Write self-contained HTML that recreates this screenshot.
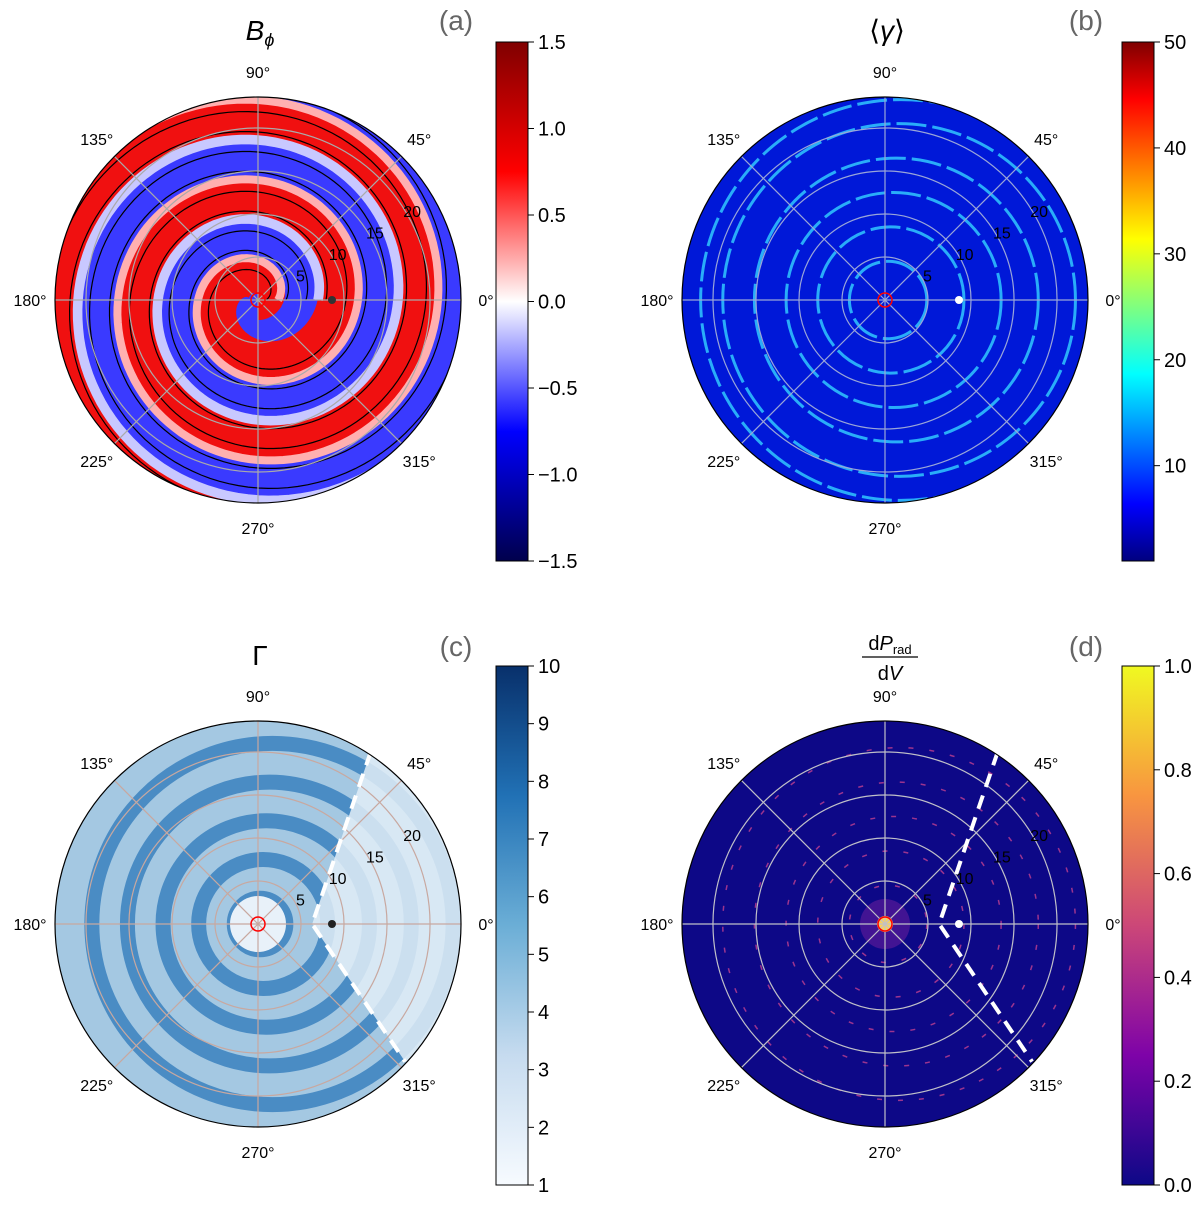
<!DOCTYPE html>
<html><head><meta charset="utf-8"><style>
body{margin:0;background:#fff;width:1200px;height:1207px;overflow:hidden;font-family:"Liberation Sans","DejaVu Sans",sans-serif}
svg{display:block}
</style></head><body>
<svg id="fig" width="1200" height="1207" viewBox="0 0 1200 1207">
<defs>
<linearGradient id="gSeis" x1="0" y1="1" x2="0" y2="0"><stop offset="0" stop-color="#00004c"/><stop offset="0.25" stop-color="#0000ff"/><stop offset="0.5" stop-color="#ffffff"/><stop offset="0.75" stop-color="#ff0000"/><stop offset="1" stop-color="#800000"/></linearGradient>
<linearGradient id="gJet" x1="0" y1="1" x2="0" y2="0"><stop offset="0" stop-color="#00007f"/><stop offset="0.11" stop-color="#0000ff"/><stop offset="0.36" stop-color="#00ffff"/><stop offset="0.62" stop-color="#ffff00"/><stop offset="0.89" stop-color="#ff0000"/><stop offset="1" stop-color="#7f0000"/></linearGradient>
<linearGradient id="gBlues" x1="0" y1="1" x2="0" y2="0"><stop offset="0" stop-color="#f7fbff"/><stop offset="0.25" stop-color="#c6dbef"/><stop offset="0.5" stop-color="#6baed6"/><stop offset="0.75" stop-color="#2171b5"/><stop offset="1" stop-color="#08306b"/></linearGradient>
<linearGradient id="gPlasma" x1="0" y1="1" x2="0" y2="0"><stop offset="0" stop-color="#0d0887"/><stop offset="0.25" stop-color="#7e03a8"/><stop offset="0.5" stop-color="#cc4778"/><stop offset="0.75" stop-color="#f89540"/><stop offset="1" stop-color="#f0f921"/></linearGradient>
<clipPath id="cA"><circle cx="258" cy="300" r="203"/></clipPath>
<clipPath id="cB"><circle cx="885" cy="300" r="203"/></clipPath>
<clipPath id="cC"><circle cx="258" cy="924" r="203"/></clipPath>
<clipPath id="cD"><circle cx="885" cy="924" r="203"/></clipPath>
</defs>
<g id="layer"></g>
</svg>
<script>
const NS='http://www.w3.org/2000/svg';
const fig=document.getElementById('layer');
// data arrays
const radialTicks=[5,10,15,20];
const angleTicks=[0,45,90,135,180,225,270,315];
const cbTicksA=[-1.5,-1.0,-0.5,0.0,0.5,1.0,1.5];
const cbTicksB=[10,20,30,40,50];
const cbTicksC=[1,2,3,4,5,6,7,8,9,10];
const cbTicksD=[0.0,0.2,0.4,0.6,0.8,1.0];
const ringRadiiB=[4.5,8.5,12.5,16.5,20.5,23.3];
const ringRadiiC=[3,7.5,12,16.5,21];
const ringRadiiD=[4.5,8.5,12.5,16.5,20.5];
const spiralPitch=9.3; // data units per turn
const dashedLine=[[13.1,20],[6.3,0],[17.1,-16]];
const RMAX=23.6, RPX=203;
function el(t,a,p){const e=document.createElementNS(NS,t);for(const k in a)e.setAttribute(k,a[k]);(p||fig).appendChild(e);return e;}
function rs(r){return r*RPX/RMAX;}
function spiralPath(cx,cy,phase,turns){let d='';for(let i=0;i<=turns*120;i++){const th=i/120*2*Math.PI;const r=rs(spiralPitch*(th/(2*Math.PI))+phase);const x=cx+r*Math.cos(th),y=cy-r*Math.sin(th);d+=(i?'L':'M')+x.toFixed(1)+' '+y.toFixed(1);}return d;}
function panel(cx,cy,bg,clip,name){
  const g=el('g',{});
  el('circle',{cx,cy,r:RPX,fill:bg},g);
  return g;}
function grid(g,cx,cy,col,clip){
  const gg=el('g',{'clip-path':clip},g);
  radialTicks.forEach(t=>{const c=el('circle',{cx,cy,r:rs(t),fill:'none',stroke:col,'stroke-width':1.2},gg);});
  angleTicks.forEach(a=>{const t=a*Math.PI/180;const l=el('line',{x1:cx,y1:cy,x2:cx+RPX*Math.cos(t),y2:cy-RPX*Math.sin(t),stroke:col,'stroke-width':1.2},gg);});
}
function labels(g,cx,cy){
  angleTicks.forEach(a=>{const t=a*Math.PI/180;const r=RPX+25;const x=cx+r*Math.cos(t),y=cy-r*Math.sin(t);
    const tx=el('text',{x:x,y:y+6,'font-size':16,'text-anchor':'middle',fill:'#000'},g);tx.textContent=a+'°';
    });
  radialTicks.forEach(v=>{const t=30*Math.PI/180;const r=rs(v)+6;const x=cx+r*Math.cos(t),y=cy-r*Math.sin(t);
    const tx=el('text',{x:x,y:y+6,'font-size':16,'text-anchor':'middle',fill:'#000'},g);tx.textContent=v;
    });
  el('circle',{cx,cy,r:RPX,fill:'none',stroke:'#000','stroke-width':1.2},g);
}
function colorbar(x,y0,y1,grad,ticks,vmin,vmax,dec,name){
  const g=el('g',{});
  el('rect',{x,y:y0,width:32,height:y1-y0,fill:'url(#'+grad+')',stroke:'#000','stroke-width':1},g);
  ticks.forEach(v=>{const y=y1-(v-vmin)/(vmax-vmin)*(y1-y0);
    el('line',{x1:x+32,y1:y,x2:x+38,y2:y,stroke:'#000','stroke-width':1},g);
    const t=el('text',{x:x+42,y:y+7,'font-size':20,fill:'#000'},g);t.textContent=(v<0?'\u2212':'')+Math.abs(v).toFixed(dec);
    });
}
function title(x,y,txt,name){const t=el('text',{x,y,'font-size':28,'text-anchor':'middle'});t.innerHTML=txt;}
function plabel(x,y,txt){const t=el('text',{x,y,'font-size':28,fill:'#666','text-anchor':'middle'});t.textContent=txt;}
function rings(g,cx,cy,arr,col,w,clip,dash,op){const gg=el('g',{'clip-path':clip},g);arr.forEach(r=>{const c=el('circle',{cx:cx+rs(r)*0.08,cy,r:rs(r),fill:'none',stroke:col,'stroke-width':w,'stroke-dasharray':dash||'none',opacity:op||1},gg);});}
function dashPts(cx,cy){return dashedLine.map(p=>[cx+rs(p[0]),cy-rs(p[1])]);}
function dashed(g,cx,cy){let d='';dashPts(cx,cy).forEach((p,i)=>{d+=(i?'L':'M')+p[0]+' '+p[1];});const p=el('path',{d,fill:'none',stroke:'#fff','stroke-width':4,'stroke-dasharray':'14 9'},g);}
function center(g,cx,cy,c2){el('circle',{cx,cy,r:7,fill:'none',stroke:'red','stroke-width':1.5},g);el('circle',{cx:cx+rs(8.6),cy,r:4,fill:c2},g);}

// (a)
let A=panel(258,300,'#3a3aff','url(#cA)','panel-a-bphi');
let ga=el('g',{'clip-path':'url(#cA)'},A);
el('path',{d:spiralPath(258,300,0,3),fill:'none',stroke:'#f01010','stroke-width':rs(spiralPitch/2)},ga);
el('path',{d:spiralPath(258,300,spiralPitch*0.25,3),fill:'none',stroke:'#ffb0b0','stroke-width':rs(spiralPitch*0.1)},ga);
el('path',{d:spiralPath(258,300,spiralPitch*0.75,3),fill:'none',stroke:'#c8c8ff','stroke-width':rs(spiralPitch*0.12)},ga);
[0.1,0.35,0.6,0.85].forEach(ph=>el('path',{d:spiralPath(258,300,spiralPitch*ph,3),fill:'none',stroke:'#000','stroke-width':1.2},ga));
grid(A,258,300,'#aaaaaa','url(#cA)');
center(A,258,300,'#333');
labels(A,258,300);
// (b)
let B=panel(885,300,'#0018d8','url(#cB)','panel-b-gamma');
rings(B,885,300,ringRadiiB,'#30c8ff',3,'url(#cB)','30 6',0.85);
grid(B,885,300,'#9aa6d8','url(#cB)');
center(B,885,300,'#fff');
labels(B,885,300);
// (c)
let C=panel(258,924,'#a4c8e2','url(#cC)','panel-c-lorentz');
rings(C,258,924,ringRadiiC,'#4a8cc4',15,'url(#cC)');
let gc=el('g',{'clip-path':'url(#cC)'},C);
const pc=dashPts(258,924);
el('path',{d:'M'+pc[0][0]+' '+(pc[0][1]-40)+' L'+pc[0][0]+' '+pc[0][1]+' L'+pc[1][0]+' '+pc[1][1]+' L'+pc[2][0]+' '+pc[2][1]+' L'+(pc[2][0]+60)+' '+(pc[2][1]+40)+' L480 1000 L480 760 Z',fill:'#e2edf7',opacity:0.85},gc);
el('circle',{cx:258,cy:924,r:28,fill:'#e8f1f9'},gc);
grid(C,258,924,'#c8a8a0','url(#cC)');
dashed(C,258,924);
center(C,258,924,'#222');
labels(C,258,924);
// (d)
let D=panel(885,924,'#0d0887','url(#cD)','panel-d-emissivity');
rings(D,885,924,ringRadiiD,'#c04090',1.5,'url(#cD)','5 16',0.8);
let gd=el('g',{'clip-path':'url(#cD)'},D);
el('circle',{cx:885,cy:924,r:25,fill:'#5a1a98',opacity:0.7},gd);
el('circle',{cx:885,cy:924,r:8,fill:'#f8d060'},gd);
grid(D,885,924,'#c0c0c8','url(#cD)');
dashed(D,885,924);
center(D,885,924,'#fff');
labels(D,885,924);

colorbar(496,42,561,'gSeis',cbTicksA,-1.5,1.5,1,'colorbar-a');
colorbar(1122,42,561,'gJet',cbTicksB,1,50,0,'colorbar-b');
colorbar(496,666,1185,'gBlues',cbTicksC,1,10,0,'colorbar-c');
colorbar(1122,666,1185,'gPlasma',cbTicksD,0,1,1,'colorbar-d');
title(260,40,'<tspan font-style="italic">B</tspan><tspan font-style="italic" font-size="18" dy="6">ϕ</tspan>','title-a');
title(887,40,'⟨<tspan font-style="italic">γ</tspan>⟩','title-b');
title(260,665,'Γ','title-c');
const tt=el('g',{});
const t1=el('text',{x:890,y:650,'font-size':20,'text-anchor':'middle'},tt);t1.innerHTML='d<tspan font-style="italic">P</tspan><tspan font-size="13" dy="4">rad</tspan>';
el('line',{x1:862,y1:657,x2:918,y2:657,stroke:'#000','stroke-width':1.2},tt);
const t2=el('text',{x:890,y:680,'font-size':20,'text-anchor':'middle'},tt);t2.innerHTML='d<tspan font-style="italic">V</tspan>';
plabel(456,30,'(a)');plabel(1086,30,'(b)');plabel(456,656,'(c)');plabel(1086,656,'(d)');
</script>
</body></html>
